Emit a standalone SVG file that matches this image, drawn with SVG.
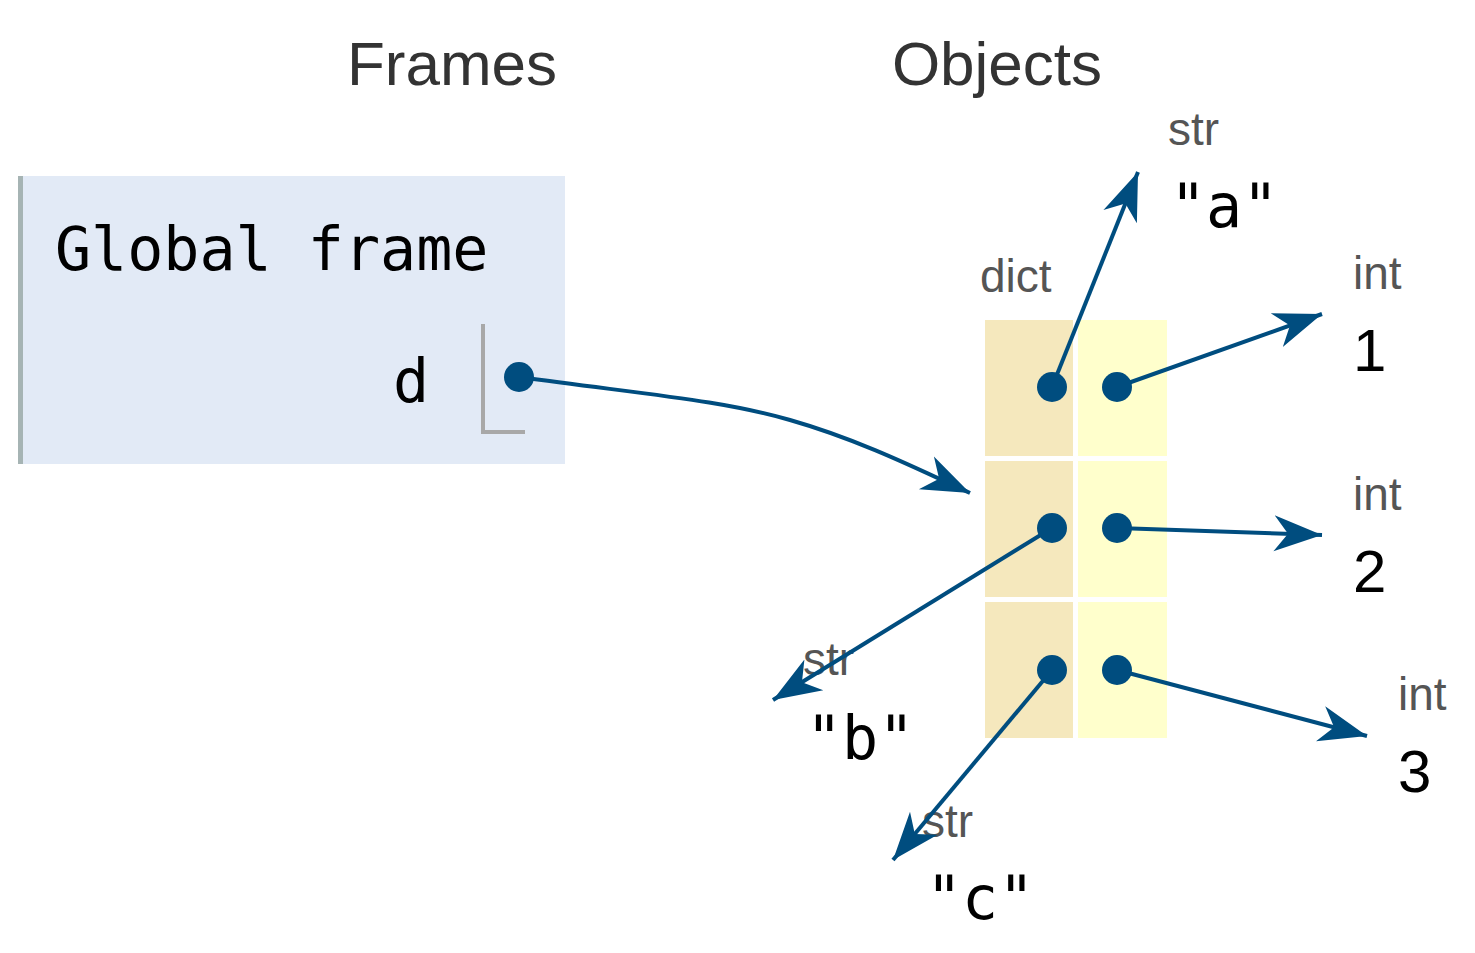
<svg xmlns="http://www.w3.org/2000/svg" width="1475" height="953" viewBox="0 0 1475 953">
<style>
.title{font-family:"Liberation Sans",Arial,sans-serif;font-size:62px;fill:#333}
.type{font-family:"Liberation Sans",Arial,sans-serif;font-size:46px;fill:#555}
.mono{font-family:"DejaVu Sans Mono","Liberation Mono",monospace;font-size:60px;fill:#000}
.num{font-family:"Liberation Sans",Arial,sans-serif;font-size:60px;fill:#000}
.dot{fill:#004d7f}
.arr{stroke:#004d7f;stroke-width:4;fill:none;marker-end:url(#ah)}
</style>
<defs>
<marker id="ah" markerUnits="userSpaceOnUse" markerWidth="50" markerHeight="40" viewBox="0 0 50 40" refX="48" refY="20" orient="auto">
<path d="M0,2 L48,20 L0,38 L14,20 z" fill="#004d7f"/>
</marker>
</defs>
<rect width="1475" height="953" fill="#fff"/>
<text class="title" x="452" y="85" text-anchor="middle">Frames</text>
<text class="title" x="997" y="85" text-anchor="middle">Objects</text>
<g id="global-frame">
<rect x="18" y="176" width="547" height="288" fill="#e2eaf6"/>
<rect x="18" y="176" width="5" height="288" fill="#a6b4b4"/>
<text class="mono" x="55" y="270">Global frame</text>
<text class="mono" x="393" y="402">d</text>
<path d="M483,324 V432 H525" stroke="#a8a8a8" stroke-width="4" fill="none"/>
</g>
<g id="dict">
<text class="type" x="980" y="292">dict</text>
<rect x="985" y="320" width="88" height="136" fill="#f5e8bd"/>
<rect x="1078" y="320" width="89" height="136" fill="#ffffcc"/>
<rect x="985" y="461" width="88" height="136" fill="#f5e8bd"/>
<rect x="1078" y="461" width="89" height="136" fill="#ffffcc"/>
<rect x="985" y="602" width="88" height="136" fill="#f5e8bd"/>
<rect x="1078" y="602" width="89" height="136" fill="#ffffcc"/>
</g>
<g id="str-a"><text class="type" x="1168" y="145">str</text><text class="mono" x="1170" y="227">"a"</text></g>
<g id="int-1"><text class="type" x="1353" y="289">int</text><text class="num" x="1353" y="371">1</text></g>
<g id="int-2"><text class="type" x="1353" y="510">int</text><text class="num" x="1353" y="592">2</text></g>
<g id="int-3"><text class="type" x="1398" y="710">int</text><text class="num" x="1398" y="792">3</text></g>
<g id="str-b"><text class="type" x="803" y="675">str</text><text class="mono" x="806" y="759">"b"</text></g>
<g id="str-c"><text class="type" x="922" y="837">str</text><text class="mono" x="926" y="919">"c"</text></g>
<g id="connectors">
<path class="arr" d="M519,377 C650,395 720,400 790,420 C860,440 920,470 970,493"/>
<path class="arr" d="M1052,387 L1138,172"/>
<path class="arr" d="M1117,387 L1322,314"/>
<path class="arr" d="M1117,528 L1322,535"/>
<path class="arr" d="M1117,670 L1367,736"/>
<path class="arr" d="M1052,528 L773,700"/>
<path class="arr" d="M1052,670 L893,860"/>
<circle class="dot" cx="519" cy="377" r="15"/>
<circle class="dot" cx="1052" cy="387" r="15"/>
<circle class="dot" cx="1117" cy="387" r="15"/>
<circle class="dot" cx="1052" cy="528" r="15"/>
<circle class="dot" cx="1117" cy="528" r="15"/>
<circle class="dot" cx="1052" cy="670" r="15"/>
<circle class="dot" cx="1117" cy="670" r="15"/>
</g>
</svg>
